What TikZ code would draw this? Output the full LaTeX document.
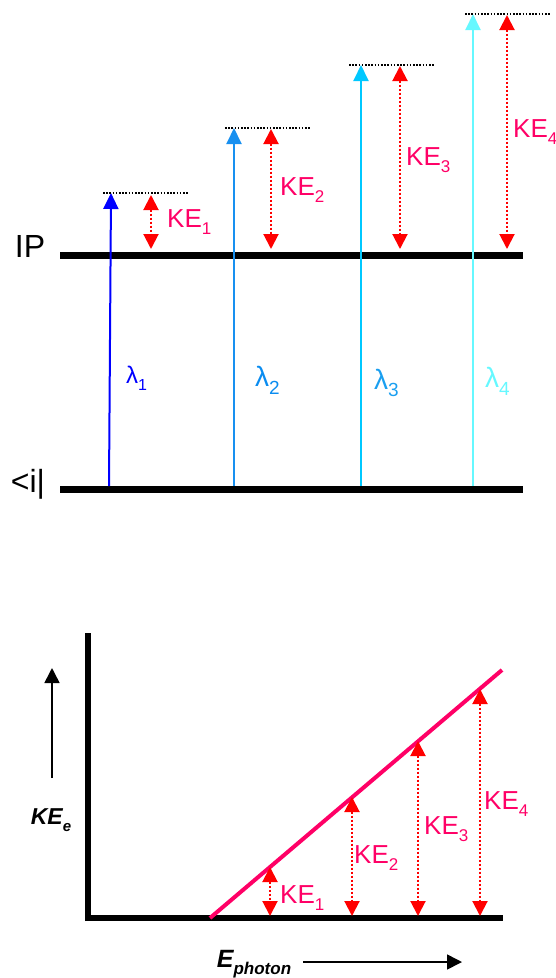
\documentclass[tikz,border=0pt]{standalone}
\usepackage{fontspec}
\setmainfont{Liberation Sans}
\usetikzlibrary{arrows.meta}
\definecolor{ke}{HTML}{FF0066}
\definecolor{lamA}{HTML}{0000FF}
\definecolor{lamB}{HTML}{1890F0}
\definecolor{lamBt}{HTML}{0A8CF0}
\definecolor{lamC}{HTML}{00C8FF}
\definecolor{lamCt}{HTML}{1A9FF0}
\definecolor{lamD}{HTML}{66F8FF}
\newcommand\subtxt[2]{\raisebox{-0.28em}{\fontsize{#1}{#1}\selectfont #2}}
\begin{document}
\begin{tikzpicture}[x=1pt,y=-1pt,
  level/.style={line width=7pt},
  axisline/.style={line width=6pt},
  photon/.style={line width=2pt,-{Triangle[width=15pt,length=16pt]}},
  kearr/.style={red, line width=2pt, dash pattern=on 2pt off 2pt,
     {Triangle[width=15pt,length=15pt]}-{Triangle[width=15pt,length=15pt]}},
  topline/.style={line width=1.3pt, dash pattern=on 1.5pt off 1.7pt},
  kelab/.style={text=ke, font=\fontsize{26}{26}\selectfont, anchor=west, inner sep=0pt},
  lamlab/.style={font=\fontsize{28}{28}\selectfont, anchor=west, inner sep=0pt},
  biglab/.style={font=\fontsize{32}{32}\selectfont, inner sep=0pt},
  axlab/.style={font=\fontsize{23}{23}\selectfont\bfseries\itshape, inner sep=0pt},
  blackarr/.style={line width=1.6pt,-{Triangle[width=15pt,length=15pt]}}
]
\useasboundingbox (0,0) rectangle (556,978);

% energy levels
\coordinate (ipL) at (60,255); \coordinate (ipR) at (523,255);
\coordinate (gL) at (60,489); \coordinate (gR) at (523,489);
\draw[level] (ipL) -- (ipR);
\draw[level] (gL) -- (gR);
\node[biglab] (ip) at (30,246) {IP};
\node[biglab] (gs) at (28,484) {<i|};

% photon arrows
\coordinate (p1b) at (109,486); \coordinate (p1t) at (111,193);
\coordinate (p2b) at (234,486); \coordinate (p2t) at (234,128);
\coordinate (p3b) at (361,486); \coordinate (p3t) at (361,65);
\coordinate (p4b) at (473,486); \coordinate (p4t) at (473,14);
\draw[photon,lamA] (p1b) -- (p1t);
\draw[photon,lamB] (p2b) -- (p2t);
\draw[photon,lamC] (p3b) -- (p3t);
\draw[photon,lamD] (p4b) -- (p4t);

% dotted tops
\coordinate (d1a) at (103,193); \coordinate (d1b) at (188,193);
\coordinate (d2a) at (225,128); \coordinate (d2b) at (310,128);
\coordinate (d3a) at (349,65); \coordinate (d3b) at (435,65);
\coordinate (d4a) at (465,14); \coordinate (d4b) at (550,14);
\draw[topline] (d1a) -- (d1b);
\draw[topline] (d2a) -- (d2b);
\draw[topline] (d3a) -- (d3b);
\draw[topline] (d4a) -- (d4b);

% KE arrows top
\coordinate (k1t) at (151,195); \coordinate (k1b) at (151,249);
\coordinate (k2t) at (271,129); \coordinate (k2b) at (271,249);
\coordinate (k3t) at (400,66); \coordinate (k3b) at (400,249);
\coordinate (k4t) at (507,15); \coordinate (k4b) at (507,249);
\draw[kearr] (k1t) -- (k1b);
\draw[kearr] (k2t) -- (k2b);
\draw[kearr] (k3t) -- (k3b);
\draw[kearr] (k4t) -- (k4b);
\node[kelab] (ke1) at (167,222) {KE\subtxt{17}{1}};
\node[kelab] (ke2) at (280,190) {KE\subtxt{17}{2}};
\node[kelab] (ke3) at (406,160) {KE\subtxt{17}{3}};
\node[kelab] (ke4) at (513,132) {KE\subtxt{17}{4}};

% lambda labels
\node[lamlab,text=lamA,font=\fontsize{24}{24}\selectfont] (l1) at (126,378) {λ\subtxt{16}{1}};
\node[lamlab,text=lamBt] (l2) at (255,380) {λ\subtxt{19}{2}};
\node[lamlab,text=lamCt] (l3) at (374,383) {λ\subtxt{19}{3}};
\node[lamlab,text=lamD] (l4) at (485,381) {λ\subtxt{19}{4}};

% ---- bottom graph ----
\coordinate (axT) at (88,633);
\coordinate (axB) at (88,921);
\coordinate (axL) at (85,918);
\coordinate (axR) at (503,918);
\draw[axisline] (axB) -- (axT);
\draw[axisline] (axL) -- (axR);
\coordinate (la) at (210,918); \coordinate (lb) at (502,670);
\draw[ke, line width=4pt] (la) -- (lb);

\coordinate (b1t) at (270,867); \coordinate (b1b) at (270,916);
\coordinate (b2t) at (352,797); \coordinate (b2b) at (352,916);
\coordinate (b3t) at (418,741); \coordinate (b3b) at (418,916);
\coordinate (b4t) at (480,689); \coordinate (b4b) at (480,916);
\draw[kearr] (b1t) -- (b1b);
\draw[kearr] (b2t) -- (b2b);
\draw[kearr] (b3t) -- (b3b);
\draw[kearr] (b4t) -- (b4b);
\node[kelab] (bk1) at (280,898) {KE\subtxt{17}{1}};
\node[kelab] (bk2) at (354,858) {KE\subtxt{17}{2}};
\node[kelab] (bk3) at (424,829) {KE\subtxt{17}{3}};
\node[kelab] (bk4) at (484,804) {KE\subtxt{17}{4}};

% axis labels
\coordinate (ya) at (52,778); \coordinate (yb) at (52,668);
\draw[blackarr] (ya) -- (yb);
\node[axlab] (yl) at (51,820) {KE\raisebox{-0.3em}{\fontsize{15}{15}\selectfont e}};
\coordinate (xa) at (303,962); \coordinate (xb) at (462,962);
\draw[blackarr] (xa) -- (xb);
\node[axlab,font=\fontsize{25}{25}\selectfont\bfseries\itshape] (xl) at (254,964) {E\raisebox{-0.3em}{\fontsize{17}{17}\selectfont photon}};
\end{tikzpicture}
\end{document}
